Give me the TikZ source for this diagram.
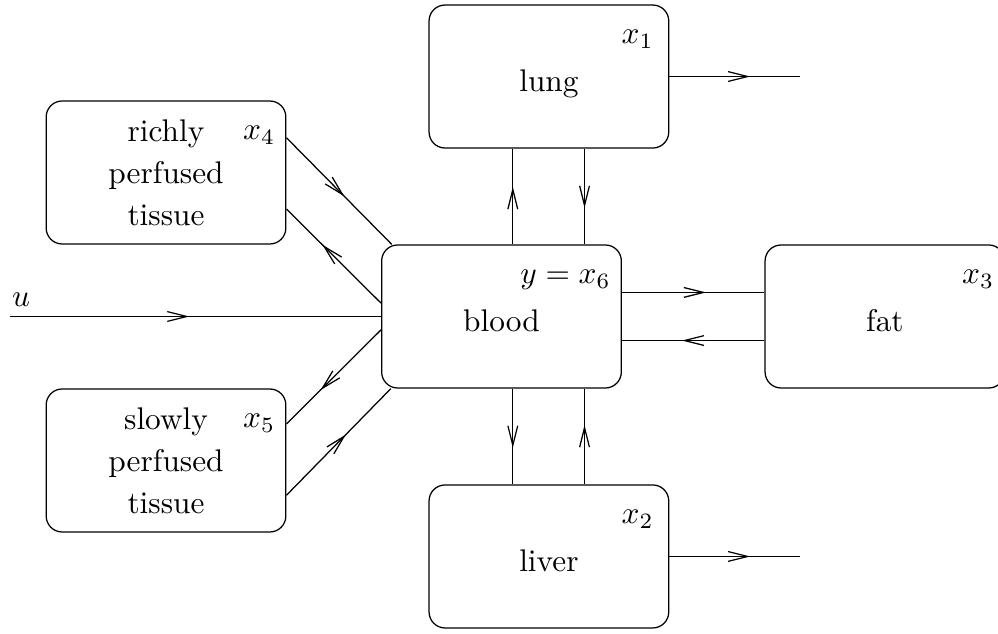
\documentclass[tikz,border=0pt]{standalone}
\usetikzlibrary{arrows.meta,decorations.markings}

\begin{document}
\begin{tikzpicture}[
        compartment/.style={draw, rounded corners=0.18cm, minimum width=2.69cm, minimum height=1.605cm, inner sep=0pt},
        organ/.style={compartment, text height=9.6pt, text depth=0pt},
        tissue/.style={compartment, align=center},
        state/.style={inner sep=0pt, anchor=base east},
        flow/.style={postaction={decorate}, decoration={markings, mark=at position #1 with {\arrow{Straight Barb[length=2.2mm,width=1.1mm]}}}},
        flow/.default=0.6]
    \useasboundingbox (0,0) rectangle (11.2,7.104);

    % compartments
    \node[organ] (lung) at (6.16,6.245) {lung};
    \node[tissue] (rich) at (1.863,5.168) {richly\\[1.4pt] perfused\\[1.4pt] tissue};
    \node[organ] (blood) at (5.628,3.552) {blood};
    \node[organ] (fat) at (9.931,3.552) {fat};
    \node[tissue] (slow) at (1.863,1.936) {slowly\\[1.4pt] perfused\\[1.4pt] tissue};
    \node[organ] (liver) at (6.16,0.859) {liver};

    % states
    \node[state] (xlung) at ([shift={(-0.17,-0.44)}]lung.north east) {$x_1$};
    \node[state] (xliver) at ([shift={(-0.17,-0.44)}]liver.north east) {$x_2$};
    \node[state] (xfat) at ([shift={(-0.12,-0.44)}]fat.north east) {$x_3$};
    \node[state] (xrich) at ([shift={(-0.12,-0.44)}]rich.north east) {$x_4$};
    \node[state] (xslow) at ([shift={(-0.12,-0.44)}]slow.north east) {$x_5$};
    \node[state] (xblood) at ([shift={(-0.12,-0.44)}]blood.north east) {$y=x_6$};

    % input
    \coordinate (uin) at (0.11,3.552);
    \node[inner sep=0pt, anchor=base west] (ulab) at ([shift={(0.02,0.11)}]uin) {$u$};
    \draw[flow=0.484] (uin) -- (blood.west);

    % blood <-> lung, liver
    \draw[flow=0.6] ([xshift=-0.405cm]lung.south |- blood.north) -- ([xshift=-0.405cm]lung.south);
    \draw[flow=0.62] ([xshift=0.4cm]lung.south) -- ([xshift=0.4cm]lung.south |- blood.north);
    \draw[flow=0.62] ([xshift=-0.405cm]liver.north |- blood.south) -- ([xshift=-0.405cm]liver.north);
    \draw[flow=0.62] ([xshift=0.4cm]liver.north) -- ([xshift=0.4cm]liver.north |- blood.south);

    % blood <-> fat
    \draw[flow=0.59] ([yshift=0.27cm]blood.east) -- ([yshift=0.27cm]blood.east -| fat.west);
    \draw[flow=0.58] ([yshift=-0.27cm]blood.east -| fat.west) -- ([yshift=-0.27cm]blood.east);

    % blood <-> tissues
    \draw[flow=0.55] ([yshift=0.39cm]rich.east) -- ([xshift=0.12cm]blood.north west);
    \draw[flow=0.62] ([yshift=0.15cm]blood.west) -- ([yshift=-0.41cm]rich.east);
    \draw[flow=0.64] ([yshift=-0.15cm]blood.west) -- ([yshift=0.41cm]slow.east);
    \draw[flow=0.57] ([yshift=-0.39cm]slow.east) -- ([xshift=0.11cm]blood.south west);

    % outputs
    \coordinate (lungout) at ([xshift=1.465cm]lung.east);
    \coordinate (liverout) at ([xshift=1.465cm]liver.east);
    \draw[flow=0.62] (lung.east) -- (lungout);
    \draw[flow=0.62] (liver.east) -- (liverout);
\end{tikzpicture}
\end{document}
